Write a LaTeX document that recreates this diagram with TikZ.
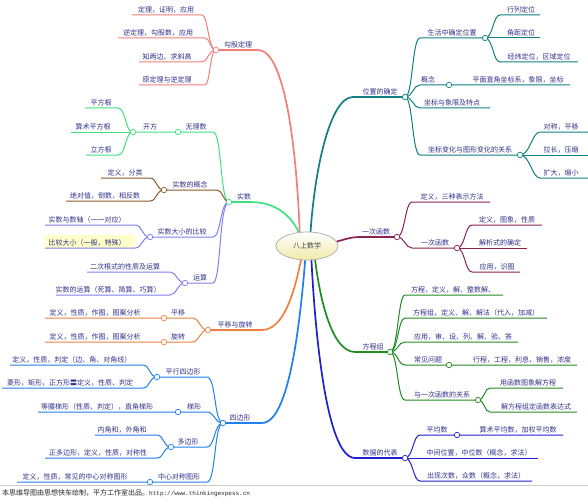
\documentclass[tikz,border=0pt]{standalone}
\usepackage{fontspec}
\newfontfamily\cjk{Noto Sans CJK SC}
\newfontfamily\urlmono{Liberation Mono}
\usetikzlibrary{shapes.geometric}
\definecolor{txt}{HTML}{30308A}
\definecolor{cgg}{HTML}{F08078}
\definecolor{csh}{HTML}{40E080}
\definecolor{cgn}{HTML}{8B5A2B}
\definecolor{clv}{HTML}{8080F0}
\definecolor{cor}{HTML}{F08040}
\definecolor{csb}{HTML}{2080F0}
\definecolor{ctl}{HTML}{108080}
\definecolor{cmr}{HTML}{8B2252}
\definecolor{cfc}{HTML}{228B22}
\definecolor{csj}{HTML}{2020D0}
\definecolor{hlc}{HTML}{FFFFC8}
\definecolor{ellb}{HTML}{F2EAA8}
\tikzset{
 lbl/.style={font=\cjk\fontsize{7}{8}\selectfont, text=txt, inner sep=0.5pt, anchor=south, yshift=1pt},
 dot/.style={circle, fill=white, inner sep=0pt, minimum size=5.5pt, line width=0.7pt},
 mainline/.style={line width=1.7pt},
 subline/.style={line width=1pt},
}
\newcommand\mkitem[6]{\coordinate (#1L) at (#2,#4); \coordinate (#1R) at (#3,#4); \node[lbl] (#1) at (#5,#4) {#6};}
\begin{document}
\begin{tikzpicture}[x=1pt,y=-1pt]
\useasboundingbox (0,0) rectangle (588,500);
\fill[white] (0,0) rectangle (588,500);
% ---------- coordinates of center ends
\coordinate (C1) at (300,240);
\coordinate (C2) at (302,240);
\coordinate (C3) at (303,250);
\coordinate (C4) at (306,250);
\coordinate (C5) at (310,240);
\coordinate (C6) at (330,243);
\coordinate (C7) at (314,250);
\coordinate (C8) at (311,250);
% highlight box
\fill[hlc] (45,235) rectangle (135,248);
% ---------- LEFT items
\mkitem{gg}{216}{258}{50}{238}{勾股定理}
\mkitem{ga}{132}{202}{15}{166}{定理，证明，应用}
\mkitem{gb}{118}{205}{38}{158}{逆定理，勾股数，应用}
\mkitem{gc}{139}{202}{62}{167}{知两边、求斜高}
\mkitem{gd}{139}{205}{85}{167}{原定理与逆定理}
\mkitem{sh}{229}{250}{202}{244}{实数}
\mkitem{wl}{178}{213}{132}{196}{无理数}
\mkitem{kf}{133}{178}{132}{150}{开方}
\mkitem{pf}{85}{118}{108}{101}{平方根}
\mkitem{ss}{71}{133}{132}{93}{算术平方根}
\mkitem{lf}{86}{118}{155}{101}{立方根}
\mkitem{gn}{164}{217}{190}{190}{实数的概念}
\mkitem{na}{101}{150}{178}{125}{定义，分类}
\mkitem{nb}{66}{150}{201}{105}{绝对值，倒数，相反数}
\mkitem{bj}{150}{213}{237}{182}{实数大小的比较}
\mkitem{ba}{45}{135}{225}{87}{实数与数轴（一一对应）}
\mkitem{bb}{45}{135}{248}{87}{比较大小（一般，特殊）}
\mkitem{ys}{185}{213}{283}{200}{运算}
\mkitem{ya}{87}{170}{272}{125}{二次根式的性质及运算}
\mkitem{yb}{56}{170}{295}{108}{实数的运算（死算、简算、巧算）}
\mkitem{px}{208}{262}{330}{235}{平移与旋转}
\mkitem{py}{164}{192}{318}{178}{平移}
\mkitem{pya}{45}{164}{318}{95}{定义，性质，作图，图案分析}
\mkitem{xz}{164}{192}{342}{178}{旋转}
\mkitem{xza}{45}{164}{342}{95}{定义，性质，作图，图案分析}
\mkitem{sb}{223}{262}{423}{240}{四边形}
\mkitem{pb}{157}{207}{377}{183}{平行四边形}
\mkitem{pba}{10}{143}{365}{72}{定义，性质，判定（边、角、对角线）}
\mkitem{pbb}{2}{143}{388}{70}{菱形，矩形，正方形〓定义，性质、判定}
\mkitem{tx}{178}{207}{412}{194}{梯形}
\mkitem{txa}{38}{178}{412}{97}{等腰梯形（性质、判定），直角梯形}
\mkitem{db}{171}{207}{447}{188}{多边形}
\mkitem{dba}{95}{157}{435}{122}{内角和，外角和}
\mkitem{dbb}{45}{157}{458}{98}{正多边形，定义，性质，对称性}
\mkitem{zx}{150}{207}{482}{179}{中心对称图形}
\mkitem{zxa}{17}{150}{482}{75}{定义，性质，常见的中心对称图形}
% ---------- RIGHT items
\mkitem{wz}{353}{405}{97}{380}{位置的确定}
\mkitem{sc}{420}{485}{38}{452}{生活中确定位置}
\mkitem{hl}{500}{540}{15}{521}{行列定位}
\mkitem{jj}{485}{540}{38}{521}{角距定位}
\mkitem{jw}{500}{578}{62}{539}{经纬定位，区域定位}
\mkitem{gz}{420}{449}{85}{428}{概念}
\mkitem{gza}{449}{570}{85}{518}{平面直角坐标系，象限，坐标}
\mkitem{zb}{420}{490}{108}{452}{坐标与象限及特点}
\mkitem{bh}{420}{520}{155}{470}{坐标变化与图形变化的关系}
\mkitem{dc}{540}{588}{132}{561}{对称，平移}
\mkitem{lc}{520}{588}{155}{561}{拉长，压缩}
\mkitem{kd}{540}{588}{178}{561}{扩大，缩小}
\mkitem{yh}{360}{397}{237}{376}{一次函数}
\mkitem{yda}{412}{490}{202}{452}{定义，三种表示方法}
\mkitem{yhb}{412}{457}{248}{435}{一次函数}
\mkitem{yba}{472}{542}{225}{507}{定义，图象，性质}
\mkitem{ybb}{457}{527}{248}{500}{解析式的确定}
\mkitem{ybc}{472}{520}{272}{497}{应用，识图}
\mkitem{fc}{355}{390}{352}{373}{方程组}
\mkitem{fca}{405}{503}{295}{453}{方程，定义，解、整数解、}
\mkitem{fcb}{405}{547}{318}{476}{方程组，定义、解、解法（代入，加减）}
\mkitem{fcc}{405}{518}{342}{463}{应用，审、设、列、解、验、答}
\mkitem{cj}{405}{449}{365}{428}{常见问题}
\mkitem{cja}{449}{577}{365}{522}{行程，工程，利息，销售，浓度}
\mkitem{gx}{405}{478}{400}{442}{与一次函数的关系}
\mkitem{gxa}{490}{563}{388}{528}{用函数图象解方程}
\mkitem{gxb}{490}{577}{412}{536}{解方程组定函数表达式}
\mkitem{sj}{355}{405}{458}{380}{数据的代表}
\mkitem{pj}{420}{457}{435}{437}{平均数}
\mkitem{pja}{457}{563}{435}{518}{算术平均数，加权平均数}
\mkitem{zw}{405}{538}{458}{479}{中间位置，中位数（概念，求法）}
\mkitem{cx}{420}{532}{481}{476}{出现次数，众数（概念，求法）}
% ---------- main branches
\draw[mainline,cgg] (C1) .. controls (297,150) and (285,50) .. (ggR) -- (ggL);
\draw[mainline,csh] (C2) .. controls (295,220) and (280,202) .. (shR) -- (shL);
\draw[mainline,cor] (C3) .. controls (298,275) and (288,330) .. (pxR) -- (pxL);
\draw[mainline,csb] (C4) .. controls (302,300) and (292,423) .. (sbR) -- (sbL);
\draw[mainline,ctl] (C5) .. controls (314,170) and (330,97) .. (wzL) -- (wzR);
\draw[mainline,cmr] (C6) .. controls (342,241) and (348,237) .. (yhL) -- (yhR);
\draw[mainline,cfc] (C7) .. controls (318,290) and (330,352) .. (fcL) -- (fcR);
\draw[mainline,csj] (C8) .. controls (314,320) and (325,458) .. (sjL) -- (sjR);
% ---------- left connectors
\begin{scope}[subline,cgg]
\draw (ggL) .. controls +(-8,0) and +(6,0) .. (gaR) -- (gaL);
\draw (ggL) .. controls +(-6,0) and +(5,0) .. (gbR) -- (gbL);
\draw (ggL) .. controls +(-8,0) and +(6,0) .. (gcR) -- (gcL);
\draw (ggL) .. controls +(-6,0) and +(5,0) .. (gdR) -- (gdL);
\end{scope}
\begin{scope}[subline,csh]
\draw (shL) .. controls +(-9,0) and +(9,0) .. (wlR) -- (wlL) -- (kfL);
\draw (kfL) .. controls +(-8,0) and +(8,0) .. (pfR) -- (pfL);
\draw (kfL) -- (ssL);
\draw (kfL) .. controls +(-8,0) and +(8,0) .. (lfR) -- (lfL);
\end{scope}
\begin{scope}[subline,cgn]
\draw (shL) .. controls +(-6,0) and +(6,0) .. (gnR) -- (gnL);
\draw (gnL) .. controls +(-8,0) and +(7,0) .. (naR) -- (naL);
\draw (gnL) .. controls +(-8,0) and +(7,0) .. (nbR) -- (nbL);
\end{scope}
\begin{scope}[subline,clv]
\draw (shL) .. controls +(-9,0) and +(8,0) .. (bjR) -- (bjL);
\draw (bjL) .. controls +(-9,0) and +(8,0) .. (baR) -- (baL);
\draw (bjL) .. controls +(-9,0) and +(8,0) .. (bbR) -- (bbL);
\draw (shL) .. controls +(-10,0) and +(8,0) .. (ysR) -- (ysL);
\draw (ysL) .. controls +(-8,0) and +(7,0) .. (yaR) -- (yaL);
\draw (ysL) .. controls +(-8,0) and +(7,0) .. (ybR) -- (ybL);
\end{scope}
\begin{scope}[subline,cor]
\draw (pxL) .. controls +(-9,0) and +(8,0) .. (pyR) -- (pyL) -- (pyaL);
\draw (pxL) .. controls +(-9,0) and +(8,0) .. (xzR) -- (xzL) -- (xzaL);
\end{scope}
\begin{scope}[subline,csb]
\draw (sbL) .. controls +(-9,0) and +(9,0) .. (pbR) -- (pbL);
\draw (pbL) .. controls +(-8,0) and +(7,0) .. (pbaR) -- (pbaL);
\draw (pbL) .. controls +(-8,0) and +(7,0) .. (pbbR) -- (pbbL);
\draw (sbL) .. controls +(-9,0) and +(8,0) .. (txR) -- (txL) -- (txaL);
\draw (sbL) .. controls +(-9,0) and +(8,0) .. (dbR) -- (dbL);
\draw (dbL) .. controls +(-8,0) and +(7,0) .. (dbaR) -- (dbaL);
\draw (dbL) .. controls +(-8,0) and +(7,0) .. (dbbR) -- (dbbL);
\draw (sbL) .. controls +(-9,0) and +(9,0) .. (zxR) -- (zxL) -- (zxaL);
\end{scope}
% ---------- right connectors
\begin{scope}[subline,ctl]
\draw (wzR) .. controls +(8,0) and +(-8,0) .. (scL) -- (scR);
\draw (scR) .. controls +(8,0) and +(-7,0) .. (hlL) -- (hlR);
\draw (scR) -- (jjR);
\draw (scR) .. controls +(8,0) and +(-7,0) .. (jwL) -- (jwR);
\draw (wzR) .. controls +(8,0) and +(-7,0) .. (gzL) -- (gzR) -- (gzaR);
\draw (wzR) .. controls +(8,0) and +(-7,0) .. (zbL) -- (zbR);
\draw (wzR) .. controls +(8,0) and +(-8,0) .. (bhL) -- (bhR);
\draw (bhR) .. controls +(10,0) and +(-8,0) .. (dcL) -- (dcR);
\draw (bhR) -- (lcR);
\draw (bhR) .. controls +(10,0) and +(-8,0) .. (kdL) -- (kdR);
\end{scope}
\begin{scope}[subline,cmr]
\draw (yhR) .. controls +(8,0) and +(-7,0) .. (ydaL) -- (ydaR);
\draw (yhR) .. controls +(8,0) and +(-7,0) .. (yhbL) -- (yhbR);
\draw (yhbR) .. controls +(8,0) and +(-7,0) .. (ybaL) -- (ybaR);
\draw (yhbR) -- (ybbR);
\draw (yhbR) .. controls +(8,0) and +(-7,0) .. (ybcL) -- (ybcR);
\end{scope}
\begin{scope}[subline,cfc]
\draw (fcR) .. controls +(8,0) and +(-7,0) .. (fcaL) -- (fcaR);
\draw (fcR) .. controls +(8,0) and +(-7,0) .. (fcbL) -- (fcbR);
\draw (fcR) .. controls +(8,0) and +(-7,0) .. (fccL) -- (fccR);
\draw (fcR) .. controls +(8,0) and +(-7,0) .. (cjL) -- (cjR) -- (cjaR);
\draw (fcR) .. controls +(8,0) and +(-8,0) .. (gxL) -- (gxR);
\draw (gxR) .. controls +(7,0) and +(-6,0) .. (gxaL) -- (gxaR);
\draw (gxR) .. controls +(7,0) and +(-6,0) .. (gxbL) -- (gxbR);
\end{scope}
\begin{scope}[subline,csj]
\draw (sjR) .. controls +(8,0) and +(-7,0) .. (pjL) -- (pjR) -- (pjaR);
\draw (sjR) -- (zwR);
\draw (sjR) .. controls +(8,0) and +(-7,0) .. (cxL) -- (cxR);
\end{scope}
% ---------- dots
\node[dot,draw=cgg] (ggDot) at (ggL) {};
\node[dot,draw=csh] (shDot) at (shL) {};
\node[dot,draw=csh] (wlDot) at (wlL) {};
\node[dot,draw=csh] (kfDot) at (kfL) {};
\node[dot,draw=cgn] (gnDot) at (gnL) {};
\node[dot,draw=clv] (bjDot) at (bjL) {};
\node[dot,draw=clv] (ysDot) at (ysL) {};
\node[dot,draw=cor] (pxDot) at (pxL) {};
\node[dot,draw=cor] (pyDot) at (pyL) {};
\node[dot,draw=cor] (xzDot) at (xzL) {};
\node[dot,draw=csb] (sbDot) at (sbL) {};
\node[dot,draw=csb] (pbDot) at (pbL) {};
\node[dot,draw=csb] (txDot) at (txL) {};
\node[dot,draw=csb] (dbDot) at (dbL) {};
\node[dot,draw=csb] (zxDot) at (zxL) {};
\node[dot,draw=ctl] (wzDot) at (wzR) {};
\node[dot,draw=ctl] (scDot) at (scR) {};
\node[dot,draw=ctl] (gzDot) at (gzR) {};
\node[dot,draw=ctl] (bhDot) at (bhR) {};
\node[dot,draw=cmr] (yhDot) at (yhR) {};
\node[dot,draw=cmr] (yhbDot) at (yhbR) {};
\node[dot,draw=cfc] (fcDot) at (fcR) {};
\node[dot,draw=cfc] (cjDot) at (cjR) {};
\node[dot,draw=cfc] (gxDot) at (gxR) {};
\node[dot,draw=csj] (sjDot) at (sjR) {};
\node[dot,draw=csj] (pjDot) at (pjR) {};
% ---------- root
\node[ellipse, draw=gray!60, line width=0.8pt, top color=white, bottom color=ellb,
  minimum width=62pt, minimum height=28pt, inner sep=0pt,
  font=\cjk\fontsize{7}{8}\selectfont, text=black!75] (root) at (307,246) {八上数学};
% ---------- footer
\draw[gray!40, line width=1pt] (0,485) -- (588,485);
\node[anchor=west, inner sep=0pt, text=black!85] (footer) at (2,493)
  {{\cjk\fontsize{7}{8}\selectfont 本思维导图由思想快车绘制，平方工作室出品。}{\urlmono\fontsize{6}{8}\selectfont http://www.thinkingexpess.cn}};
\end{tikzpicture}
\end{document}
